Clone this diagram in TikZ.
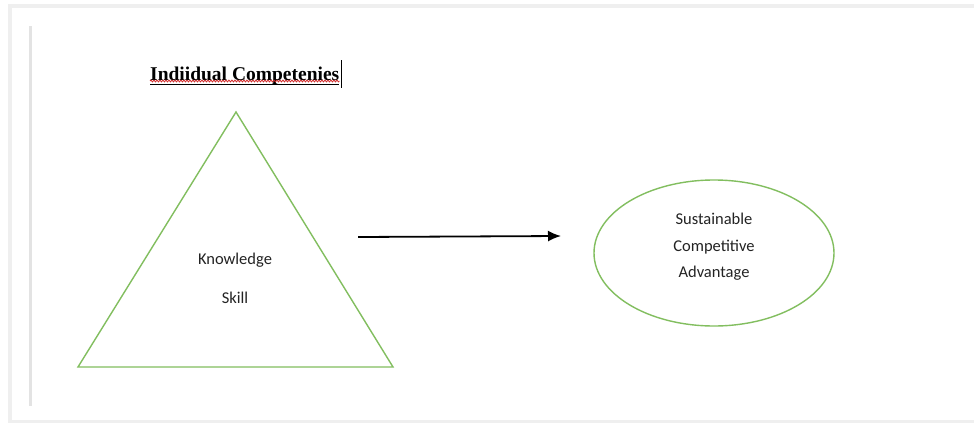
\documentclass[tikz,border=0pt]{standalone}
\usepackage{fontspec}
\setmainfont{Carlito}
\newfontfamily\titlefont{Liberation Serif}
\usetikzlibrary{arrows,arrows.meta,shapes,shapes.geometric,decorations.pathmorphing,positioning}

\definecolor{shapegreen}{RGB}{130,190,95}
\definecolor{framegray}{RGB}{232,232,232}
\definecolor{spellred}{RGB}{210,40,40}
\definecolor{textgray}{RGB}{35,35,35}

\begin{document}
\begin{tikzpicture}[x=1pt,y=-1pt,
	outline/.style={draw=shapegreen,line width=1.4pt},
	bodytext/.style={text=textgray,font=\fontsize{16.5}{20}\selectfont}]

	\useasboundingbox (0,0) rectangle (974,423);
	\fill[framegray!70] (8,4) rectangle (974,423);
	\fill[white] (12,8) rectangle (974,420);
	\draw[framegray!120,line width=3pt] (30,26) -- (30,406);

	\node[anchor=base west,inner sep=0pt,font=\titlefont\bfseries\fontsize{19.5}{22}\selectfont] (title) at (150,80) {Indiidual Competenies};
	\draw[line width=0.9pt] (title.base west) ++(0,4) coordinate (ulstart) -- (title.base east |- ulstart) coordinate (ulend);
	\draw[spellred,line width=0.8pt,decorate,decoration={snake,amplitude=0.9pt,segment length=3pt}] ([yshift=3pt]ulstart) -- ([yshift=3pt]ulend);
	\coordinate (cursortop) at ([xshift=1.5pt]title.base east |- 0,60);
	\draw[line width=0.9pt] (cursortop) -- ++(0,28);

	\coordinate (apex) at (236,112);
	\coordinate (baseleft) at (78,367);
	\coordinate (baseright) at (393,367);
	\draw[outline,line join=miter] (apex) -- (baseright) -- (baseleft) -- cycle;

	\node[bodytext] (knowledge) at (235,260) {Knowledge};
	\node[bodytext] (skill) at (235,298) {Skill};

	\node[outline,ellipse,minimum width=240pt,minimum height=146pt,inner sep=0pt] (advantage) at (714,253) {};
	\node[bodytext,align=center,font=\fontsize{16.5}{26.5}\selectfont] (advtext) at (714,247) {Sustainable\\Competitive\\Advantage};

	\coordinate (arrstart) at (358,237);
	\coordinate (arrend) at (561,236);
	\draw[-{Latex[length=13pt,width=11pt]},line width=1.8pt] (arrstart) -- (arrend);

\end{tikzpicture}
\end{document}
